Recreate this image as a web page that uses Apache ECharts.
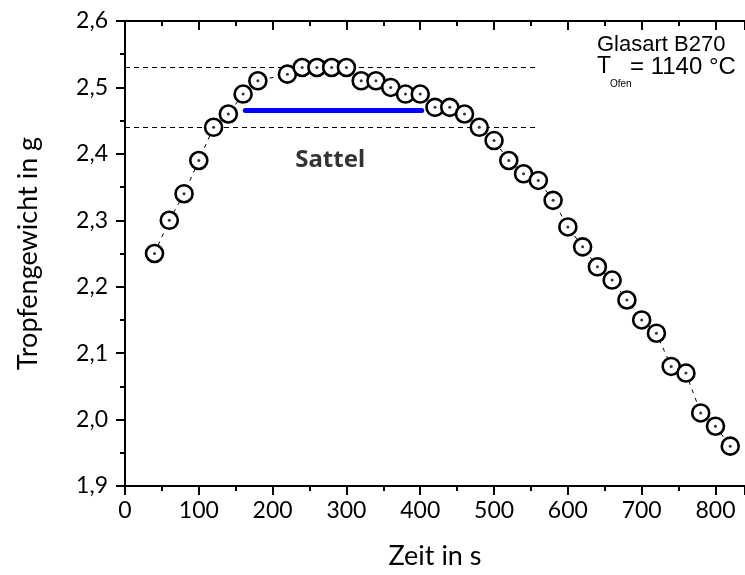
<!DOCTYPE html>
<html>
<head>
<meta charset="utf-8">
<script src="https://cdn.jsdelivr.net/npm/echarts@6/dist/echarts.min.js"></script>
<style>html,body{margin:0;padding:0;background:#fff}#c{width:745px;height:575px}</style>
</head>
<body>
<div id="c"></div>
<script>
// Data
var timeS = [40,60,80,100,120,140,160,180,220,240,260,280,300,320,340,360,380,400,420,440,460,480,500,520,540,560,580,600,620,640,660,680,700,720,740,760,780,800,820];
var weightG = [2.25,2.30,2.34,2.39,2.44,2.46,2.49,2.51,2.52,2.53,2.53,2.53,2.53,2.51,2.51,2.50,2.49,2.49,2.47,2.47,2.46,2.44,2.42,2.39,2.37,2.36,2.33,2.29,2.26,2.23,2.21,2.18,2.15,2.13,2.08,2.07,2.01,1.99,1.96];
var upperRef = [[0,2.53],[560,2.53]];
var lowerRef = [[0,2.44],[560,2.44]];
var sattelBar = [[163,2.465],[402,2.465]];
var sattelLabelPos = [278,2.391];
var yTicks = {min:1.9, max:2.6, interval:0.1};
var xTicks = {min:0, max:840, interval:100};

var pts = timeS.map(function(t,i){return [t, weightG[i]];});
var tickFont = 'Lato';
var chart = echarts.init(document.getElementById('c'));
chart.setOption({
  animation:false,
  backgroundColor:'#fff',
  grid:{left:125, right:-2, top:21, bottom:86},
  xAxis:[{
    type:'value', min:xTicks.min, max:xTicks.max, interval:xTicks.interval,
    name:'Zeit in s', nameLocation:'middle', nameGap:57,
    nameTextStyle:{fontFamily:tickFont, fontSize:27, color:'#000'},
    axisLine:{lineStyle:{color:'#000', width:2}},
    axisTick:{show:true, length:9, lineStyle:{color:'#000', width:2}},
    minorTick:{show:true, splitNumber:2, length:5, lineStyle:{color:'#000', width:2}},
    axisLabel:{fontFamily:tickFont, fontSize:23, color:'#000', margin:13, showMaxLabel:false},
    splitLine:{show:false}
  },{
    type:'value', position:'top', min:xTicks.min, max:xTicks.max, interval:xTicks.interval,
    axisLine:{show:true, lineStyle:{color:'#000', width:2}},
    axisTick:{show:true, inside:true, length:9, lineStyle:{color:'#000', width:2}},
    minorTick:{show:true, splitNumber:2, length:5, lineStyle:{color:'#000', width:2}},
    axisLabel:{show:false}, splitLine:{show:false}
  }],
  yAxis:{
    type:'value', min:yTicks.min, max:yTicks.max, interval:yTicks.interval,
    name:'Tropfengewicht in g', nameLocation:'middle', nameGap:83,
    nameTextStyle:{fontFamily:tickFont, fontSize:27, color:'#000'},
    axisLine:{show:true, lineStyle:{color:'#000', width:2}},
    axisTick:{show:true, length:9, lineStyle:{color:'#000', width:2}},
    minorTick:{show:true, splitNumber:2, length:5, lineStyle:{color:'#000', width:2}},
    axisLabel:{fontFamily:tickFont, fontSize:23, color:'#000', margin:17,
      formatter:function(v){return v.toFixed(1).replace('.',',');}},
    splitLine:{show:false}
  },
  series:[{
    type:'line', data:pts, symbol:'circle', symbolSize:17, z:3,
    lineStyle:{color:'#000', width:1, type:[4,5]},
    itemStyle:{color:'#fff', borderColor:'#000', borderWidth:2.6},
    markLine:{
      silent:true, symbol:['none','none'], label:{show:false}, z:1,
      data:[
        [{coord:upperRef[0], lineStyle:{color:'#000', width:1, type:[5,4]}},{coord:upperRef[1]}],
        [{coord:lowerRef[0], lineStyle:{color:'#000', width:1, type:[5,4]}},{coord:lowerRef[1]}],
        [{coord:sattelBar[0], lineStyle:{color:'#0000ff', width:5, type:'solid', cap:'round'}},{coord:sattelBar[1]}]
      ]
    }
  },{
    type:'scatter', data:pts, symbol:'circle', symbolSize:3, z:4,
    itemStyle:{color:'#000'}
  },{
    type:'scatter', data:[sattelLabelPos], symbolSize:0, z:5,
    label:{show:true, position:'inside', formatter:'Sattel', fontFamily:'Noto Sans', fontWeight:'bold', fontSize:24, color:'#000'}
  }],
  graphic:[
    {type:'text', x:597, y:45, style:{text:'Glasart B270', font:'22px "Liberation Sans"', fill:'#000', verticalAlign:'middle', align:'left'}},
    {type:'text', x:597, y:67, style:{text:'T', font:'23px "Liberation Sans"', fill:'#000', verticalAlign:'middle', align:'left'}},
    {type:'text', x:610, y:84, style:{text:'Ofen', font:'10px "Liberation Sans"', fill:'#000', verticalAlign:'middle', align:'left'}},
    {type:'text', x:630, y:67, style:{text:'= 1140 °C', font:'24px "Liberation Sans"', fill:'#000', verticalAlign:'middle', align:'left'}}
  ]
});
</script>
</body>
</html>
